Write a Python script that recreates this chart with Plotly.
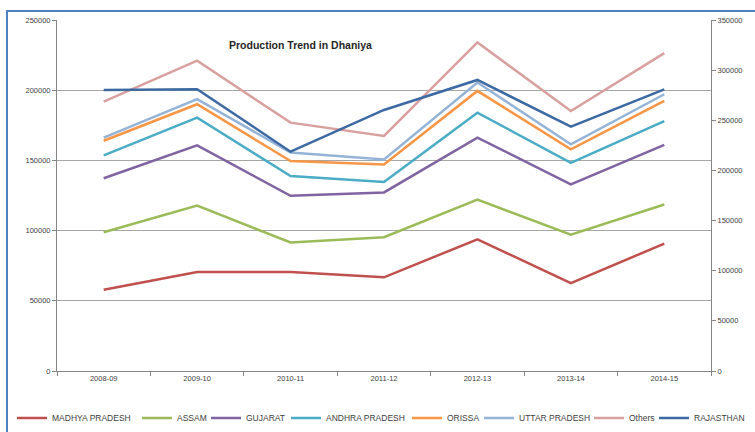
import plotly.graph_objects as go

categories = ["2008-09", "2009-10", "2010-11", "2011-12", "2012-13", "2013-14", "2014-15"]

madhya_pradesh = [57900, 70500, 70600, 66700, 93800, 62600, 90700]
assam = [98800, 117800, 91500, 95300, 122100, 97100, 118600]
gujarat = [137300, 160700, 124800, 127200, 166200, 132900, 161000]
andhra_pradesh = [153600, 180500, 138800, 134600, 184000, 148300, 178000]
orissa = [164000, 190000, 149500, 147100, 199500, 157900, 192400]
uttar_pradesh = [166200, 193600, 155600, 150700, 205500, 161400, 197100]
others = [191900, 221000, 176900, 167400, 234000, 185200, 226400]
rajasthan = [280200, 280900, 218700, 260300, 290200, 243600, 280900]  # secondary axis

left_ticks = [0, 50000, 100000, 150000, 200000, 250000]
right_ticks = [0, 50000, 100000, 150000, 200000, 250000, 300000, 350000]

series = [
    ("MADHYA PRADESH", madhya_pradesh, "#C0504D", "y"),
    ("ASSAM", assam, "#9BBB59", "y"),
    ("GUJARAT", gujarat, "#8064A2", "y"),
    ("ANDHRA PRADESH", andhra_pradesh, "#4BACC6", "y"),
    ("ORISSA", orissa, "#F79646", "y"),
    ("UTTAR PRADESH", uttar_pradesh, "#95B3D7", "y"),
    ("Others", others, "#D9A0A0", "y"),
    ("RAJASTHAN", rajasthan, "#3D6AA3", "y2"),
]

# pixel x where each legend line sample starts in the reference
legend_starts = [18, 143, 212, 292, 413, 485, 595, 660]

W, H = 755, 432
L, R, T, B = 57, 44, 20, 61
pw, ph = W - L - R, H - T - B

legend_font = dict(family="Liberation Sans, Arial, sans-serif", size=8.5, color="#404040")

fig = go.Figure()
legend_layouts = {}
for i, (name, vals, color, yax) in enumerate(series):
    key = "legend" if i == 0 else f"legend{i + 1}"
    fig.add_trace(go.Scatter(
        x=categories, y=vals, name=name, mode="lines", yaxis=yax,
        line=dict(color=color, width=2.5), legend=key,
    ))
    legend_layouts[key] = dict(
        orientation="h", xref="container", yref="container",
        x=(legend_starts[i] - 6) / W, xanchor="left",
        y=1 - 418 / H, yanchor="middle",
        font=legend_font, bgcolor="rgba(0,0,0,0)", borderwidth=0,
    )

tickfont = dict(family="Liberation Sans, Arial, sans-serif", size=7.5, color="#404040")

fig.update_layout(
    width=W, height=H,
    margin=dict(l=L, r=R, t=T, b=B),
    paper_bgcolor="white", plot_bgcolor="white",
    showlegend=True,
    xaxis=dict(
        type="category", range=[-0.5, 6.5], showgrid=False,
        showline=True, linecolor="#868686", linewidth=1,
        ticks="outside", tickson="boundaries", ticklen=4, tickcolor="#868686",
        tickfont=tickfont,
    ),
    yaxis=dict(
        range=[0, 250000], tickvals=left_ticks, tickformat="d",
        showgrid=True, gridcolor="#A6A6A6", gridwidth=1,
        showline=True, linecolor="#868686", linewidth=1,
        ticks="outside", ticklen=4, tickcolor="#868686",
        zeroline=False, tickfont=tickfont,
    ),
    yaxis2=dict(
        range=[0, 350000], tickvals=right_ticks, tickformat="d",
        overlaying="y", side="right", showgrid=False,
        showline=True, linecolor="#868686", linewidth=1,
        ticks="outside", ticklen=4, tickcolor="#868686",
        zeroline=False, tickfont=tickfont,
    ),
    annotations=[dict(
        text="<b>Production Trend in Dhaniya</b>", xref="paper", yref="paper",
        x=(300 - L) / pw, y=1 - (45 - T) / ph, xanchor="center", yanchor="middle",
        showarrow=False,
        font=dict(family="Liberation Sans, Arial, sans-serif", size=10.5, color="#262626"),
    )],
    shapes=[dict(
        type="rect", xref="paper", yref="paper",
        x0=(7 - L) / pw, x1=(770 - L) / pw,
        y0=1 - (450 - T) / ph, y1=1 - (11 - T) / ph,
        line=dict(color="#4F81BD", width=2), layer="below",
    )],
    **legend_layouts,
)

fig.write_html("out.html")
